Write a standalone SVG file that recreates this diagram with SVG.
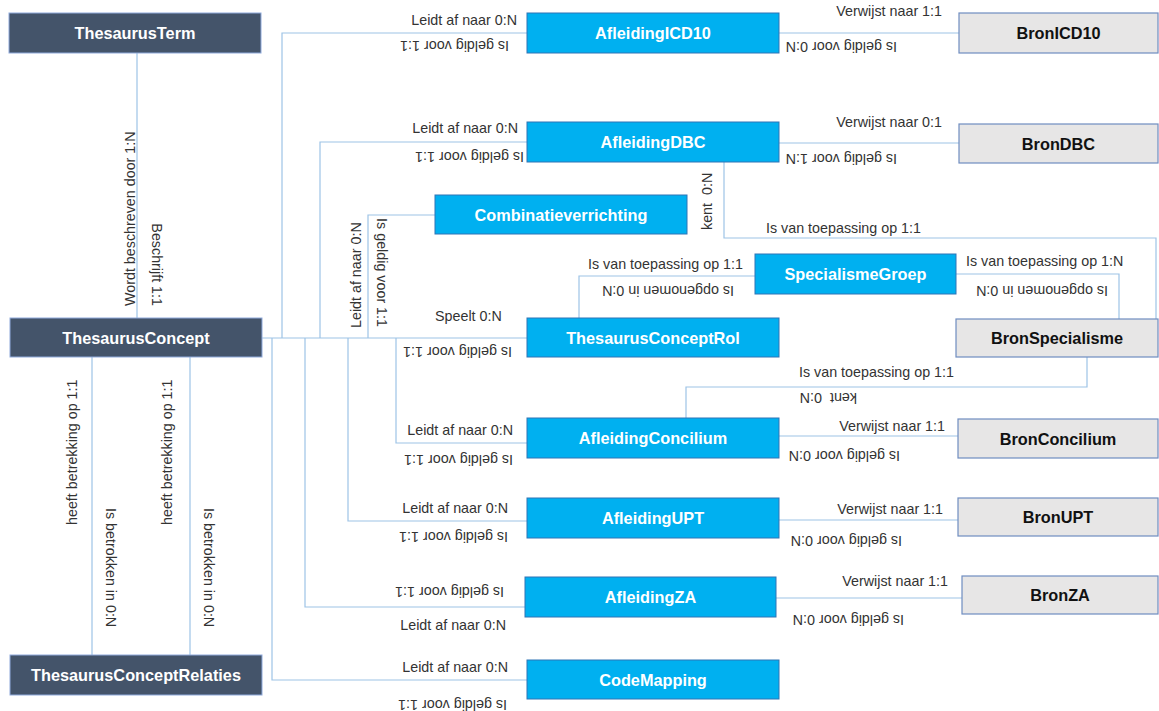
<svg xmlns="http://www.w3.org/2000/svg" width="1159" height="711" viewBox="0 0 1159 711">
<style>
.bg{fill:#ffffff}
.dark rect{fill:#44546A;stroke:#8FAADC;stroke-width:1}
.blue rect{fill:#00B0F0;stroke:#2E75B6;stroke-width:1}
.gray rect{fill:#E7E6E6;stroke:#6F8DC0;stroke-width:1.2}
.node text{font-family:"Liberation Sans",Arial,sans-serif;font-weight:bold;font-size:16.3px;text-anchor:middle}
.dark text,.blue text{fill:#ffffff}
.gray text{fill:#111111}
.conn path{fill:none;stroke:#9DC3E6;stroke-width:1.2}
.lbl{font-family:"Liberation Sans",Arial,sans-serif;font-size:14.3px;fill:#333333}
.e{text-anchor:end}
</style>
<rect class="bg" x="0" y="0" width="1159" height="711"/>
<g id="connectors" class="conn">
<path d="M137,53 V318"/>
<path d="M262,338 H527"/>
<path d="M282,338 V33 H527"/>
<path d="M320,338 V142 H527"/>
<path d="M368,338 V215 H435"/>
<path d="M396,338 V443 H527"/>
<path d="M348,338 V521 H527"/>
<path d="M305,338 V607 H525"/>
<path d="M272,338 V680 H527"/>
<path d="M779,33 H959"/>
<path d="M779,143 H959"/>
<path d="M724,162 V238 H1156 V319"/>
<path d="M579,318 V276 H755"/>
<path d="M956,274 H1119 V319"/>
<path d="M1087,357 V387 H686 V418"/>
<path d="M779,436 H958"/>
<path d="M779,520 H958"/>
<path d="M776,598 H962"/>
<path d="M92,357 V655"/>
<path d="M190,357 V655"/>
</g>
<g id="labels">
<text class="lbl e" x="517" y="25">Leidt af naar 0:N</text>
<text class="lbl" transform="translate(509,41) rotate(180)">Is geldig voor 1:1</text>
<text class="lbl e" x="942" y="16">Verwijst naar 1:1</text>
<text class="lbl" transform="translate(897,42) rotate(180)">Is geldig voor 0:N</text>
<text class="lbl e" x="518" y="133">Leidt af naar 0:N</text>
<text class="lbl" transform="translate(524,152) rotate(180)">Is geldig voor 1:1</text>
<text class="lbl e" x="942" y="127">Verwijst naar 0:1</text>
<text class="lbl" transform="translate(897,154) rotate(180)">Is geldig voor 1:N</text>
<text class="lbl" xml:space="preserve" transform="translate(712,230) rotate(-90)">kent  0:N</text>
<text class="lbl" x="766" y="233">Is van toepassing op 1:1</text>
<text class="lbl" x="588" y="269">Is van toepassing op 1:1</text>
<text class="lbl" transform="translate(734,286) rotate(180)">Is opgenomen in 0:N</text>
<text class="lbl" x="966" y="266">Is van toepassing op 1:N</text>
<text class="lbl" transform="translate(1108,286) rotate(180)">Is opgenomen in 0:N</text>
<text class="lbl" x="435" y="321">Speelt 0:N</text>
<text class="lbl" transform="translate(512,347) rotate(180)">Is geldig voor 1:1</text>
<text class="lbl" x="799" y="377">Is van toepassing op 1:1</text>
<text class="lbl" xml:space="preserve" transform="translate(857,393) rotate(180)">kent  0:N</text>
<text class="lbl e" x="513" y="435">Leidt af naar 0:N</text>
<text class="lbl" transform="translate(513,455) rotate(180)">Is geldig voor 1:1</text>
<text class="lbl e" x="945" y="431">Verwijst naar 1:1</text>
<text class="lbl" transform="translate(900,451) rotate(180)">Is geldig voor 0:N</text>
<text class="lbl e" x="508" y="513">Leidt af naar 0:N</text>
<text class="lbl" transform="translate(508,532) rotate(180)">Is geldig voor 1:1</text>
<text class="lbl e" x="943" y="514">Verwijst naar 1:1</text>
<text class="lbl" transform="translate(902,536) rotate(180)">Is geldig voor 0:N</text>
<text class="lbl" transform="translate(504,587) rotate(180)">Is geldig voor 1:1</text>
<text class="lbl e" x="506" y="630">Leidt af naar 0:N</text>
<text class="lbl e" x="948" y="586">Verwijst naar 1:1</text>
<text class="lbl" transform="translate(904,615) rotate(180)">Is geldig voor 0:N</text>
<text class="lbl e" x="508" y="672">Leidt af naar 0:N</text>
<text class="lbl" transform="translate(507,700) rotate(180)">Is geldig voor 1:1</text>
<text class="lbl" transform="translate(135,306) rotate(-90)">Wordt beschreven door 1:N</text>
<text class="lbl e" transform="translate(152,306) rotate(90)">Beschrijft 1:1</text>
<text class="lbl" transform="translate(361,328) rotate(-90)">Leidt af naar 0:N</text>
<text class="lbl e" transform="translate(377,327) rotate(90)">Is geldig voor 1:1</text>
<text class="lbl" transform="translate(77,525) rotate(-90)">heeft betrekking op 1:1</text>
<text class="lbl" transform="translate(172,525) rotate(-90)">heeft betrekking op 1:1</text>
<text class="lbl" transform="translate(106,508) rotate(90)">Is betrokken in 0:N</text>
<text class="lbl" transform="translate(204,508) rotate(90)">Is betrokken in 0:N</text>
</g>
<g id="ThesaurusTerm" class="node dark"><rect x="9" y="13" width="252" height="40"/><text x="135" y="39">ThesaurusTerm</text></g>
<g id="ThesaurusConcept" class="node dark"><rect x="10" y="318" width="252" height="39"/><text x="136" y="343.5">ThesaurusConcept</text></g>
<g id="ThesaurusConceptRelaties" class="node dark"><rect x="10" y="655" width="252" height="40"/><text x="136" y="681">ThesaurusConceptRelaties</text></g>
<g id="AfleidingICD10" class="node blue"><rect x="527" y="13" width="252" height="40"/><text x="653" y="39">AfleidingICD10</text></g>
<g id="AfleidingDBC" class="node blue"><rect x="527" y="122" width="252" height="40"/><text x="653" y="148">AfleidingDBC</text></g>
<g id="Combinatieverrichting" class="node blue"><rect x="435" y="195" width="252" height="39"/><text x="561" y="220.5">Combinatieverrichting</text></g>
<g id="SpecialismeGroep" class="node blue"><rect x="755" y="254" width="201" height="40"/><text x="855.5" y="280">SpecialismeGroep</text></g>
<g id="ThesaurusConceptRol" class="node blue"><rect x="527" y="318" width="252" height="39"/><text x="653" y="343.5">ThesaurusConceptRol</text></g>
<g id="AfleidingConcilium" class="node blue"><rect x="527" y="418" width="252" height="40"/><text x="653" y="444">AfleidingConcilium</text></g>
<g id="AfleidingUPT" class="node blue"><rect x="527" y="498" width="252" height="40"/><text x="653" y="524">AfleidingUPT</text></g>
<g id="AfleidingZA" class="node blue"><rect x="525" y="577" width="251" height="40"/><text x="650.5" y="603">AfleidingZA</text></g>
<g id="CodeMapping" class="node blue"><rect x="527" y="660" width="252" height="39"/><text x="653" y="685.5">CodeMapping</text></g>
<g id="BronICD10" class="node gray"><rect x="959" y="13" width="199" height="40"/><text x="1058.5" y="39">BronICD10</text></g>
<g id="BronDBC" class="node gray"><rect x="959" y="124" width="199" height="39"/><text x="1058.5" y="149.5">BronDBC</text></g>
<g id="BronSpecialisme" class="node gray"><rect x="956" y="319" width="202" height="38"/><text x="1057" y="344">BronSpecialisme</text></g>
<g id="BronConcilium" class="node gray"><rect x="958" y="419" width="200" height="39"/><text x="1058" y="444.5">BronConcilium</text></g>
<g id="BronUPT" class="node gray"><rect x="958" y="498" width="200" height="38"/><text x="1058" y="523">BronUPT</text></g>
<g id="BronZA" class="node gray"><rect x="962" y="576" width="196" height="38"/><text x="1060" y="601">BronZA</text></g>
</svg>
